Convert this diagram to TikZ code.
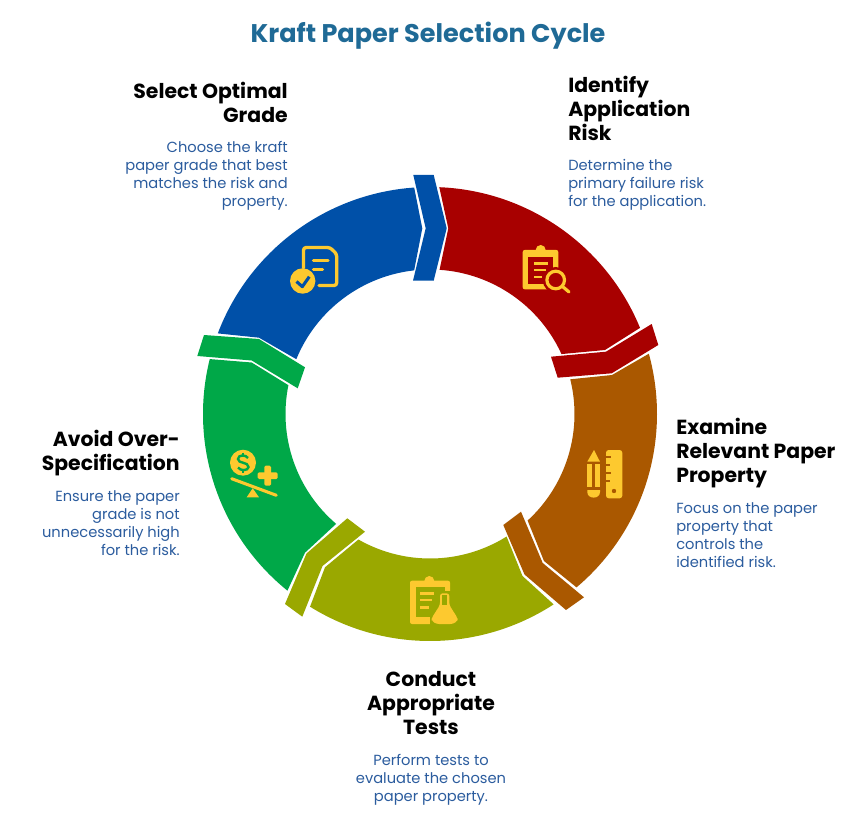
\documentclass[tikz,border=0pt]{standalone}
\usepackage{fontspec}
\setmainfont{Poppins}
\usetikzlibrary{calc}
\definecolor{cred}{HTML}{A80000}
\definecolor{cblue}{HTML}{0050A8}
\definecolor{cbrown}{HTML}{AA5800}
\definecolor{colive}{HTML}{9AA800}
\definecolor{cgreen}{HTML}{00A848}
\definecolor{cicon}{HTML}{FDC92F}
\definecolor{ctitle}{HTML}{1F6A96}
\definecolor{cbody}{HTML}{2B5C9E}
\newcommand{\px}[2]{\fontsize{#1}{#2}\selectfont}
\tikzset{
  x=0.75pt,y=-0.75pt,
  head/.style={font=\bfseries\px{15.3}{18}, text=black, inner sep=0pt},
  body/.style={font=\px{11}{13.5}, text=cbody, inner sep=0pt},
  ic/.style={fill=cicon,draw=none},
  icl/.style={draw=cicon,line width=2.5pt,line cap=round},
}
\begin{document}
\begin{tikzpicture}
\useasboundingbox (0,0) rectangle (868,813);
\fill[white] (0,0) rectangle (868,813);
\coordinate (C) at (430,414);
\def\RO{227}\def\RI{144.5}
% red
\fill[cred] ($(C)+(-87.65:\RO)$) arc[start angle=-87.65,end angle=-22.3,radius=\RO] -- (605,350) -- ($(C)+(-24.5:\RI)$) arc[start angle=-24.5,end angle=-86.2,radius=\RI] -- (448.3,228.3) -- cycle;
\fill[cred] (651.7,324) -- (658.3,345) -- (611.7,373.3) -- (557.7,377.7) -- (551,356.7) -- (606,351.7) -- cycle;
% brown
\fill[cbrown] ($(C)+(-15.4:\RO)$) arc[start angle=-15.4,end angle=49.8,radius=\RO] -- (544,561) -- ($(C)+(47.5:\RI)$) arc[start angle=47.5,end angle=-13.9,radius=\RI] -- (612,375) -- cycle;
\fill[cbrown] (521,511.7) -- (503.3,525) -- (524.5,574.5) -- (566,610) -- (584,597.3) -- (542.7,563) -- cycle;
% olive
\fill[colive] ($(C)+(57:\RO)$) arc[start angle=57,end angle=121.9,radius=\RO] -- (325,567.3) -- ($(C)+(119.7:\RI)$) arc[start angle=119.7,end angle=58,radius=\RI] -- (522.5,576) -- cycle;
\fill[colive] (347.3,518.3) -- (365,531.7) -- (322.5,566) -- (302.3,616.7) -- (285,604) -- (306.5,553.5) -- cycle;
% green
\fill[cgreen] ($(C)+(128.9:\RO)$) arc[start angle=128.9,end angle=194,radius=\RO] -- (251.7,362.5) -- ($(C)+(191.5:\RI)$) arc[start angle=191.5,end angle=130.5,radius=\RI] -- (305,552.7) -- cycle;
\fill[cgreen] (204,335) -- (259,339) -- (305,367.3) -- (297.7,388.3) -- (251.7,360.5) -- (197.3,356) -- cycle;
% blue
\fill[cblue] ($(C)+(200.8:\RO)$) arc[start angle=200.8,end angle=266,radius=\RO] -- (422.3,228.3) -- ($(C)+(263.7:\RI)$) arc[start angle=263.7,end angle=202.3,radius=\RI] -- (259,337.7) -- cycle;
\fill[cblue] (413.3,175) -- (433.7,175) -- (446.7,228.3) -- (433.7,280.7) -- (413,280.7) -- (425.7,228.3) -- cycle;

% icon: select (blue)
\draw[icl,line join=round] (303.5,268) -- (303.5,250) [rounded corners=2pt] -- (303.5,247.5) -- (330,247.5) -- (336.7,254) -- (336.7,285.5) -- (319,285.5);
\draw[icl] (313.5,260.7) -- (328,260.7);
\draw[icl] (313.5,269.7) -- (322.5,269.7);
\fill[ic] (302.7,281) circle[radius=12.7];
\draw[cblue,line width=2.3pt,line join=round] (296.5,281.5) -- (302.3,286.7) -- (309.3,276.7);

% icon: identify (red)
\fill[ic,rounded corners=1.5pt] (522.7,250) rectangle (558.3,289.3);
\fill[ic] (540.7,250) circle[radius=5];
\fill[cred] (528.3,257.3) rectangle (553.3,284);
\draw[icl,line width=1.9pt,line cap=butt] (534,263.3) -- (548.3,263.3);
\draw[icl,line width=1.9pt,line cap=butt] (534,270) -- (546,270);
\draw[icl,line width=1.9pt,line cap=butt] (534,277) -- (541.7,277);
\fill[cred] (555.7,280) circle[radius=13];
\draw[icl,fill=cred,line width=2.4pt] (555.7,280) circle[radius=8.8];
\draw[icl,line width=2.4pt] (562.5,286.5) -- (569,292);

% icon: examine (brown)
\fill[ic] (594,450) -- (600,461.7) -- (587.3,461.7) -- cycle;
\fill[ic] (587.3,464) rectangle (592.4,487.3);
\fill[ic] (594.6,464) rectangle (600,487.3);
\fill[ic] (587.3,490) -- (600,490) -- (600,492) .. controls (600,499.5) and (587.3,499.5) .. (587.3,492) -- cycle;
\fill[ic,rounded corners=2pt] (606,450) rectangle (622.3,498.3);
\foreach \yy/\xx in {457.3/611,465/609.5,472.7/611,480.7/609.5}{\fill[cbrown] (606,\yy-1) rectangle (\xx,\yy+1);}
\fill[cbrown] (614,491) circle[radius=2.2];

% icon: tests (olive)
\fill[ic,rounded corners=1.5pt] (410,580.7) rectangle (450,624);
\fill[ic] (429.3,581) circle[radius=5];
\fill[colive] (416,587.3) rectangle (445,617.3);
\fill[ic] (445,587.3) rectangle (450,591);
\fill[colive] (445,591) rectangle (450.5,625);
\draw[icl,line width=1.9pt,line cap=butt] (420,593.3) -- (434.3,593.3);
\draw[icl,line width=1.9pt,line cap=butt] (420,600) -- (431.7,600);
\draw[icl,line width=1.9pt,line cap=butt] (420,607.7) -- (429,607.7);
\fill[colive] (438,591) rectangle (451,612) (430,605) rectangle (460,626);
\fill[ic,rounded corners=2pt] (440,593.3) -- (449.3,593.3) -- (449.3,605) -- (457.5,618) -- (457.5,621) -- (453,624) -- (436.5,624) -- (431.7,621) -- (431.7,618) -- (440,605) -- cycle;
\fill[colive] (442.3,595.3) rectangle (446.7,605);

% icon: avoid (green)
\fill[ic] (243,462.7) circle[radius=13];
\draw[cgreen,line width=1.8pt] (248,458) .. controls (246,454.5) and (238,454.5) .. (238,459) .. controls (238,464) and (248.5,461.5) .. (248.5,467) .. controls (248.5,471) and (240,471) .. (238,467.5);
\draw[cgreen,line width=1.8pt] (243,452.5) -- (243,455.5) (243,469.5) -- (243,473);
\fill[ic,rounded corners=1pt] (264.4,465.7) rectangle (271,485.7);
\fill[ic,rounded corners=1pt] (257.7,472.4) rectangle (277.7,479);
\draw[icl,line width=2.3pt] (231.7,478.7) -- (276.3,495.3);
\fill[ic] (252.7,488.3) -- (259,497.3) -- (246.7,497.3) -- cycle;

% texts
\node[font=\bfseries\px{19.15}{24},text=ctitle,inner sep=0pt] (title) at (428,35.5) {Kraft Paper Selection Cycle};

\node[head,align=right,anchor=east] (h1) at (288,102) {Select Optimal\\Grade};
\node[body,align=right,anchor=east] (b1) at (288,176) {Choose the kraft\\paper grade that best\\matches the risk and\\property.};

\node[head,align=left,anchor=west] (h2) at (568,108) {Identify\\Application\\Risk};
\node[body,align=left,anchor=west] (b2) at (568,185) {Determine the\\primary failure risk\\for the application.};

\node[head,align=left,anchor=west] (h3) at (676,453) {Examine\\Relevant Paper\\Property};
\node[body,align=left,anchor=west] (b3) at (676,535) {Focus on the paper\\property that\\controls the\\identified risk.};

\node[head,align=center] (h4) at (431,703) {Conduct\\Appropriate\\Tests};
\node[body,align=center] (b4) at (431,780) {Perform tests to\\evaluate the chosen\\paper property.};

\node[head,align=right,anchor=east] (h5) at (180,453) {Avoid Over-\\Specification};
\node[body,align=right,anchor=east] (b5) at (180,523) {Ensure the paper\\grade is not\\unnecessarily high\\for the risk.};
\end{tikzpicture}
\end{document}
